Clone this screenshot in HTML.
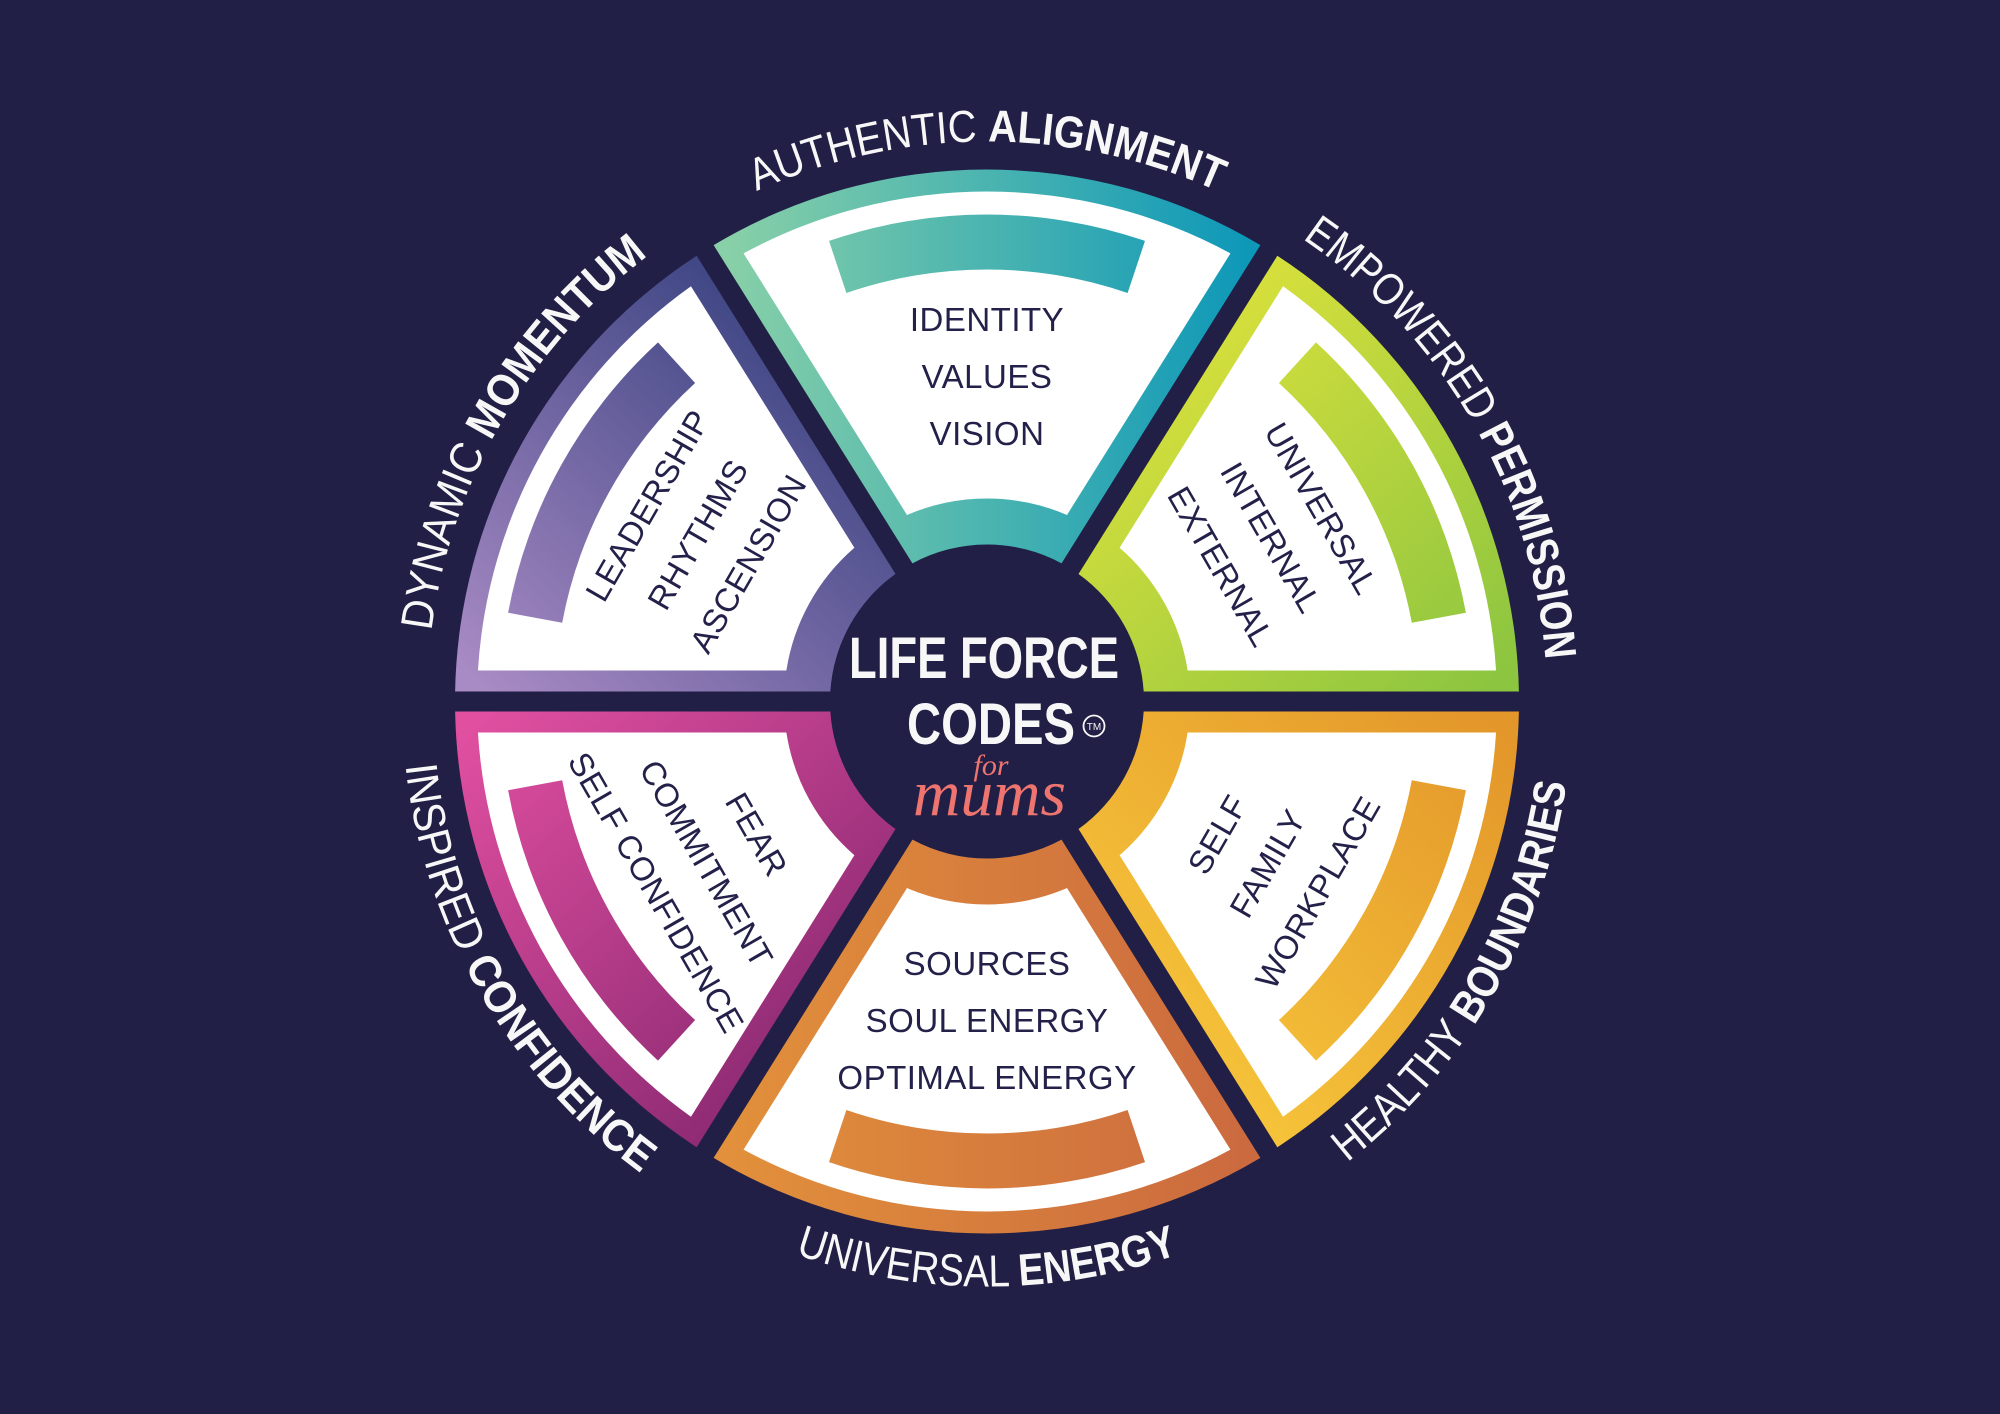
<!DOCTYPE html>
<html><head><meta charset="utf-8"><style>
html,body{margin:0;padding:0;background:#211F45;}
svg{display:block}
</style></head><body>
<svg width="2000" height="1414" viewBox="0 0 2000 1414" xmlns="http://www.w3.org/2000/svg">
<defs>
<linearGradient id="g0" gradientUnits="userSpaceOnUse" x1="-260" y1="0" x2="260" y2="0"><stop offset="0" stop-color="#88D0A8"/><stop offset="1" stop-color="#0E98B8"/></linearGradient>
<linearGradient id="g180" gradientUnits="userSpaceOnUse" x1="-260" y1="0" x2="260" y2="0"><stop offset="0" stop-color="#CB6A3F"/><stop offset="1" stop-color="#E2903B"/></linearGradient>
<linearGradient id="gTR" gradientUnits="userSpaceOnUse" x1="200" y1="-380" x2="520" y2="-30"><stop offset="0" stop-color="#D8E03C"/><stop offset="1" stop-color="#8CC540"/></linearGradient>
<linearGradient id="gBR" gradientUnits="userSpaceOnUse" x1="200" y1="-380" x2="520" y2="-30"><stop offset="0" stop-color="#F6C43A"/><stop offset="1" stop-color="#E3962A"/></linearGradient>
<linearGradient id="gTL" gradientUnits="userSpaceOnUse" x1="200" y1="-380" x2="520" y2="-30"><stop offset="0" stop-color="#3D4583"/><stop offset="1" stop-color="#A88AC4"/></linearGradient>
<linearGradient id="gBL" gradientUnits="userSpaceOnUse" x1="200" y1="-380" x2="520" y2="-30"><stop offset="0" stop-color="#8D2A73"/><stop offset="1" stop-color="#E04FA0"/></linearGradient>
<path id="outer" d="M -273.38 -456.35 A 532 532 0 0 1 273.38 -456.35 L 74.55 -138.16 A 157 157 0 0 0 -74.55 -138.16 Z"/>
<path id="white" d="M -243.46 -448.11 A 510 510 0 0 1 243.46 -448.11 L 80.02 -186.56 A 203 203 0 0 0 -80.02 -186.56 Z"/>
<path id="bar" d="M -158 -460.6 A 487 487 0 0 1 158 -460.6 L 140.6 -408.5 A 432 432 0 0 0 -140.6 -408.5 Z"/>
<path id="souter" d="M 290.34 -445.75 A 532 532 0 0 1 531.9 -10 L 156.68 -10 A 157 157 0 0 0 91.51 -127.56 Z"/>
<path id="swhite" d="M 296.04 -415.25 A 510 510 0 0 1 509.06 -31 L 200.62 -31 A 203 203 0 0 0 132.60 -153.70 Z"/>
<path id="sbar" d="M 329.0 -359.1 A 487 487 0 0 1 478.9 -88.7 L 424.8 -78.7 A 432 432 0 0 0 291.9 -318.5 Z"/>
<path id="toparc" d="M -560 0 A 560 560 0 0 1 560 0"/>
<path id="botarc" d="M -585 0 A 585 585 0 0 0 585 0"/>
</defs>
<rect width="2000" height="1414" fill="#211F45"/>
<g transform="translate(987,701.5)" font-family="Liberation Sans, sans-serif">
  <!-- top & bottom sectors -->
  <g><use href="#outer" fill="url(#g0)"/><use href="#white" fill="#fff"/><use href="#bar" fill="url(#g0)"/></g>
  <g transform="rotate(180)"><use href="#outer" fill="url(#g180)"/><use href="#white" fill="#fff"/><use href="#bar" fill="url(#g180)"/></g>
  <!-- side sectors -->
  <g><use href="#souter" fill="url(#gTR)"/><use href="#swhite" fill="#fff"/><use href="#sbar" fill="url(#gTR)"/></g>
  <g transform="scale(1,-1)"><use href="#souter" fill="url(#gBR)"/><use href="#swhite" fill="#fff"/><use href="#sbar" fill="url(#gBR)"/></g>
  <g transform="scale(-1,1)"><use href="#souter" fill="url(#gTL)"/><use href="#swhite" fill="#fff"/><use href="#sbar" fill="url(#gTL)"/></g>
  <g transform="scale(-1,-1)"><use href="#souter" fill="url(#gBL)"/><use href="#swhite" fill="#fff"/><use href="#sbar" fill="url(#gBL)"/></g>

  <!-- inner texts -->
  <g font-size="33" fill="#23214A" text-anchor="middle" dominant-baseline="central" letter-spacing="0.5">
    <g><text x="0" y="-382">IDENTITY</text><text x="0" y="-325">VALUES</text><text x="0" y="-268">VISION</text></g>
    <g transform="rotate(60)"><text x="0" y="-386">UNIVERSAL</text><text x="0" y="-328">INTERNAL</text><text x="0" y="-270">EXTERNAL</text></g>
    <g transform="rotate(-60)"><text x="0" y="-392">LEADERSHIP</text><text x="0" y="-334">RHYTHMS</text><text x="0" y="-276">ASCENSION</text></g>
    <g><text x="0" y="262">SOURCES</text><text x="0" y="319">SOUL ENERGY</text><text x="0" y="376">OPTIMAL ENERGY</text></g>
    <g transform="rotate(-60)"><text x="0" y="266">SELF</text><text x="0" y="324">FAMILY</text><text x="0" y="382">WORKPLACE</text></g>
    <g transform="rotate(60)"><text x="0" y="266">FEAR</text><text x="0" y="324">COMMITMENT</text><text x="0" y="382">SELF CONFIDENCE</text></g>
  </g>

  <!-- outer labels -->
  <g font-size="45" fill="#F7F7F7">
    <g><text><textPath href="#toparc" startOffset="50%" text-anchor="middle" textLength="475" lengthAdjust="spacingAndGlyphs">AUTHENTIC <tspan font-weight="bold">ALIGNMENT</tspan></textPath></text></g>
    <g transform="rotate(60)"><text><textPath href="#toparc" startOffset="50%" text-anchor="middle" textLength="503" lengthAdjust="spacingAndGlyphs">EMPOWERED <tspan font-weight="bold">PERMISSION</tspan></textPath></text></g>
    <g transform="rotate(-60)"><text><textPath href="#toparc" startOffset="50%" text-anchor="middle" textLength="445" lengthAdjust="spacingAndGlyphs">DYNAMIC <tspan font-weight="bold">MOMENTUM</tspan></textPath></text></g>
    <g><text><textPath href="#botarc" startOffset="50%" text-anchor="middle" textLength="391" lengthAdjust="spacingAndGlyphs">UNIVERSAL <tspan font-weight="bold">ENERGY</tspan></textPath></text></g>
    <g transform="rotate(-60)"><text><textPath href="#botarc" startOffset="50%" text-anchor="middle" textLength="449" lengthAdjust="spacingAndGlyphs">HEALTHY <tspan font-weight="bold">BOUNDARIES</tspan></textPath></text></g>
    <g transform="rotate(60)"><text><textPath href="#botarc" startOffset="50%" text-anchor="middle" textLength="485" lengthAdjust="spacingAndGlyphs">INSPIRED <tspan font-weight="bold">CONFIDENCE</tspan></textPath></text></g>
  </g>
</g>

<!-- center logo -->
<g font-family="Liberation Sans, sans-serif" fill="#F7F7F7" font-weight="bold">
  <text x="849" y="678" font-size="58" textLength="270" lengthAdjust="spacingAndGlyphs">LIFE FORCE</text>
  <text x="907" y="744" font-size="58" textLength="168" lengthAdjust="spacingAndGlyphs">CODES</text>
</g>
<circle cx="1094" cy="726" r="10.5" fill="none" stroke="#F7F7F7" stroke-width="1.8"/>
<text x="1094" y="730" font-family="Liberation Sans, sans-serif" font-size="10" fill="#F7F7F7" text-anchor="middle">TM</text>
<text x="991" y="775" font-family="Liberation Serif, serif" font-style="italic" font-size="30" fill="#EE7470" text-anchor="middle">for</text>
<text x="913" y="815" font-family="Liberation Serif, serif" font-style="italic" font-size="66" fill="#EE7470" textLength="153" lengthAdjust="spacingAndGlyphs">mums</text>
</svg>
</body></html>
